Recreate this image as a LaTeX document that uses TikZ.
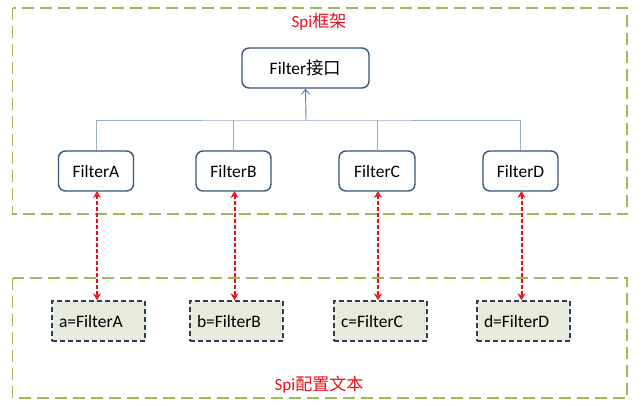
\documentclass[tikz,border=0pt]{standalone}
\usepackage{fontspec}
\setmainfont{Carlito}
\newfontfamily\cjk{Noto Sans CJK SC}
\usetikzlibrary{arrows.meta}
\definecolor{grp}{HTML}{9BBB59}
\definecolor{bxb}{HTML}{3B5478}
\definecolor{treel}{HTML}{9AAEC8}
\definecolor{arrb}{HTML}{4A7EBB}
\definecolor{cfgb}{HTML}{2F3D5C}
\definecolor{cfgf}{HTML}{E6EBDC}
\definecolor{redl}{HTML}{E8101E}
\tikzset{
  x=1pt, y=-1pt,
  group/.style={draw=grp, line width=1.8pt, dash pattern=on 12pt off 6pt},
  grouplabel/.style={text=redl, font=\fontsize{17}{20}\selectfont},
  fbox/.style={draw=bxb, line width=1.4pt, rounded corners=7pt, fill=white, minimum height=40pt, font=\fontsize{17.5}{20}\selectfont, inner sep=0pt},
  cbox/.style={draw=cfgb, line width=1.4pt, dash pattern=on 5pt off 3pt, fill=cfgf, minimum height=40pt, minimum width=93pt, font=\fontsize{17.5}{20}\selectfont, inner ysep=0pt, inner xsep=7pt, align=left, text width=79pt},
  tree/.style={draw=treel, line width=0.9pt},
  link/.style={draw=redl, line width=2pt, dash pattern=on 4pt off 2pt, {Stealth[open,length=7pt,width=8pt,line width=1.2pt]}-{Stealth[open,length=7pt,width=8pt,line width=1.2pt]}}
}
\begin{document}
\begin{tikzpicture}
\useasboundingbox (0,0) rectangle (640,405);
\fill[white] (0,0) rectangle (640,405);
% groups
\draw[group] (12.5,8) rectangle (627,214);
\draw[group] (12.5,278) rectangle (627,398);
\node[grouplabel] (lt) at (319,22) {Spi{\cjk 框架}};
\node[grouplabel] (lb) at (319,385) {Spi{\cjk 配置文本}};
% interface
\node[fbox, minimum width=127pt] (fi) at (305.5,68) {Filter{\cjk 接口}};
% filters
\node[fbox, minimum width=75pt] (fa) at (96,171) {FilterA};
\node[fbox, minimum width=75pt] (fb) at (233.5,171) {FilterB};
\node[fbox, minimum width=76pt] (fc) at (377,171) {FilterC};
\node[fbox, minimum width=75pt] (fd) at (520.5,171) {FilterD};
% config
\node[cbox] (ca) at (98.5,321) {a=FilterA};
\node[cbox] (cb) at (236.5,321) {b=FilterB};
\node[cbox] (cc) at (380.5,321) {c=FilterC};
\node[cbox] (cd) at (523.5,321) {d=FilterD};
% tree
\coordinate (j) at (306,120);
\draw[tree] (fa.north) |- (j) -| (fd.north);
\draw[tree] (fb.north) -- (fb.north |- j);
\draw[tree] (fc.north) -- (fc.north |- j);
\draw[draw=arrb, line width=0.9pt, -{Straight Barb[length=5pt,width=8pt]}] (j) -- (fi.south);
% links
\coordinate (la) at (97,191);
\coordinate (lb2) at (234.5,191);
\coordinate (lc) at (378,191);
\coordinate (ld) at (521.5,191);
\draw[link] (la) -- (la |- ca.north);
\draw[link] (lb2) -- (lb2 |- cb.north);
\draw[link] (lc) -- (lc |- cc.north);
\draw[link] (ld) -- (ld |- cd.north);
\end{tikzpicture}
\end{document}
